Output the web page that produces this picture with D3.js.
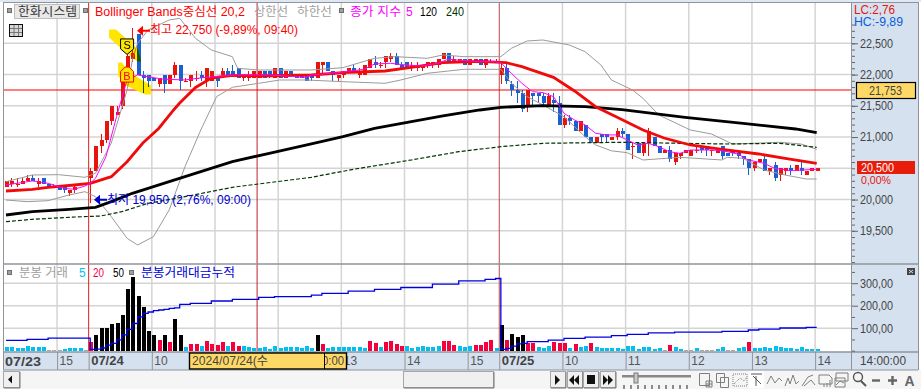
<!DOCTYPE html>
<html lang="ko">
<head>
<meta charset="utf-8">
<title>한화시스템</title>
<script src="https://cdn.jsdelivr.net/npm/d3@7/dist/d3.min.js"></script>
<style>
  html, body { margin: 0; padding: 0; background: #fff; overflow: hidden; }
  svg { display: block; }
  text { font-family: "Liberation Sans", "Noto Sans CJK KR", sans-serif; }
</style>
</head>
<body>
<svg id="chart" width="921" height="389"></svg>
<script>
// 5 minute candles, 07/23 14:xx to 07/25 14:00
const candleOpen = [
  20200,20250,20250,20250,20300,20350,20250,20350,20250,20200,20200,20200,20100,20150,20250,20250,
  20350,20450,20850,20950,21250,21350,21500,22100,22250,22650,22000,22000,21950,21850,22000,21850,22000,22150,21900,21900,21950,22000,21900,21900,21950,22000,22050,22050,22100,21950,21950,21950,21950,22050,22050,21950,22100,21950,22050,22000,22000,22000,
  22000,21950,22150,22200,22050,21950,22000,22050,22100,22000,22000,22100,22200,22150,22200,22250,22300,22150,22200,22100,22100,22100,22150,22150,22150,22250,22350,22200,22200,22250,22150,22200,22250,22150,22200,22200,
  22000,22100,21850,21750,21700,21500,21700,21700,21650,21500,21600,21550,21200,21300,21250,21100,21200,21000,20900,21050,21050,20950,21000,
  21100,21050,20850,20900,20750,20900,21000,20850,20750,20800,20600,20700,20750,20700,20800,20850,20850,20800,20750,20850,20750,20800,20750,20700,20650,20500,20600,20650,20450,20550,20400,20450,20500,20450,20500,20400,20450,20450
];
const candleHigh = [
  20300,20350,20350,20350,20400,20400,20350,20350,20250,20250,20200,20200,20150,20250,20250,20250,
  20500,20850,21050,21250,21500,21500,21950,22500,22750,22650,22050,22000,21950,21950,22000,22000,22200,22150,21950,22000,22050,22050,22100,22050,21950,22100,22100,22150,22100,22000,22050,22050,22050,22050,22050,22100,22100,22050,22050,22000,22000,22000,
  22000,22200,22200,22200,22050,22000,22050,22100,22150,22100,22150,22250,22300,22200,22300,22350,22350,22200,22200,22200,22200,22150,22200,22200,22250,22350,22350,22300,22250,22250,22250,22250,22250,22250,22250,22250,
  22200,22200,21900,21900,21750,21750,21700,21700,21700,21700,21700,21650,21350,21350,21250,21250,21200,21000,21000,21050,21050,21000,21150,
  21150,21050,20900,20900,20900,21150,21000,20850,20800,20850,20750,20750,20800,20800,20850,20850,20850,20800,20800,20850,20750,20800,20800,20700,20650,20600,20650,20700,20500,20600,20500,20500,20550,20550,20600,20450,20500,20500
];
const candleLow = [
  20200,20200,20200,20250,20300,20300,20200,20250,20200,20200,20150,20100,20050,20100,20250,20250,
  19950,20450,20750,20900,21200,21350,21450,21950,22200,22000,21700,21800,21900,21800,21700,21850,21950,21750,21900,21800,21900,21900,21800,21900,21800,21950,22000,22000,21950,21900,21900,21950,21950,21950,21950,21950,21950,21950,22000,21950,21950,21900,
  21900,21950,22000,22050,21900,21900,21950,22050,22050,21950,22000,22100,22100,22100,22100,22200,22150,22100,22100,22050,22050,22050,22100,22100,22100,22250,22200,22200,22200,22150,22150,22200,22150,22100,22200,22200,
  21850,21850,21650,21550,21400,21400,21500,21550,21500,21500,21400,21200,21150,21200,21100,21100,21000,20900,20900,20900,20900,20950,20950,
  21000,20800,20650,20750,20700,20700,20850,20750,20750,20600,20550,20650,20750,20700,20750,20750,20700,20700,20750,20650,20700,20700,20650,20550,20400,20450,20600,20450,20400,20300,20300,20400,20400,20450,20400,20400,20450,20450
];
const candleClose = [
  20300,20300,20250,20300,20350,20300,20300,20250,20200,20200,20150,20150,20150,20200,20250,20250,
  20450,20850,20950,21250,21500,21400,21950,22300,22350,22000,21950,21900,21900,21950,21850,22000,22150,21900,21900,22000,21950,21950,22100,22050,21900,22050,22000,22000,21950,22000,22000,22050,22050,21950,22000,22100,21950,22050,22000,21950,21950,21900,
  21950,22200,22200,22050,22000,22000,22050,22100,22050,22050,22150,22250,22150,22150,22300,22300,22150,22100,22100,22150,22150,22150,22200,22200,22250,22350,22200,22250,22250,22150,22250,22250,22150,22250,22200,22200,
  22100,21900,21750,21700,21450,21750,21650,21650,21550,21650,21550,21200,21300,21250,21100,21250,21000,20900,21000,21000,21000,21000,21100,
  21050,20800,20850,20750,20900,21100,20850,20750,20800,20650,20750,20750,20800,20800,20800,20800,20800,20800,20800,20700,20700,20750,20700,20650,20500,20600,20650,20450,20500,20350,20500,20500,20450,20550,20450,20450,20500,20500
];

// volume per bar, same index as the candles
const volume = [
  15,15,12,12,19,15,15,18,4,4,4,7,12,12,12,4,
  39,70,101,101,120,123,159,274,329,243,194,89,70,47,70,39,141,70,
  16,30,30,19,43,30,25,39,19,39,21,19,15,13,13,16,9,19,12,16,15,16,12,19,
  12,70,30,12,18,15,15,18,18,18,12,44,36,16,39,44,30,21,19,12,16,19,15,15,19,44,44,27,19,16,19,27,27,39,49,12,
  114,47,74,59,70,36,36,15,12,19,39,36,34,12,30,15,19,33,15,12,12,
  12,12,9,19,19,9,16,16,9,12,4,25,16,9,4,4,12,4,4,4,9,16,4,4,12,16,39,12,12,16,12,19,16,12,12,9,16,9,9,9
];

const ma20Index = [0,5,8,13,16,20,23,26,29,32,33,36,39,43,48,58,64,72,77,83,90,95,98,104,108,112,116,121,125,130,136,143,148,154];
const ma20Values = [20137,20164,20196,20233,20260,20366,20606,20905,21137,21449,21545,21793,21945,21988,21977,21993,22030,22057,22116,22190,22212,22190,22126,21956,21737,21486,21321,21113,20985,20873,20804,20729,20660,20580];
const ma120Index = [0,5,12,17,20,24,31,37,43,50,58,64,70,77,83,90,94,102,110,117,129,140,150,154];
const ma120Values = [19753,19806,19844,19876,19966,20100,20286,20446,20606,20740,20889,21006,21140,21246,21337,21433,21476,21502,21486,21438,21316,21220,21129,21070];
const ma240Index = [0,5,12,18,22,27,34,43,58,66,77,86,94,102,117,128,137,147,154];
const ma240Values = [19646,19684,19716,19737,19806,19940,20046,20196,20356,20484,20633,20766,20846,20900,20916,20900,20889,20900,20836];
const upperIndex = [0,3,5,10,15,17,20,23,24,25,27,31,33,36,39,43,44,48,58,64,70,74,80,83,87,94,96,99,102,107,110,113,115,119,121,124,130,134,138,147,151,154];
const upperValues = [20286,20350,20393,20398,20356,20420,20905,21753,22233,22500,22713,22873,22900,22580,22393,22286,22100,22073,22073,22110,22260,22286,22260,22313,22286,22286,22420,22537,22553,22473,22366,22153,21913,21753,21620,21353,21113,21049,20889,20916,20889,20804];
const lowerIndex = [0,4,8,12,15,17,20,23,25,28,31,34,37,40,43,48,52,57,64,72,75,80,87,94,96,99,102,106,110,112,115,118,121,128,136,137,140,144,148,152,154];
const lowerValues = [19993,19966,19982,20073,20126,20046,19726,19380,19273,19406,19833,20526,21113,21646,21796,21860,21913,21913,21886,21860,21913,22020,22084,22084,21860,21646,21513,21326,21006,20873,20780,20750,20633,20676,20633,20676,20660,20473,20393,20329,20329];
const ma5Index = [0,3,5,8,11,13,15,16,17,19,21,23,25,26,30,34,38,41,44,50,57,58,63,66,68,70,73,76,79,82,84,87,90,93,94,96,98,100,102,104,106,108,110,112,114,116,118,120,122,124,126,128,130,134,136,139,141,144,146,149,154];
const ma5Values = [20233,20271,20298,20260,20180,20164,20217,20260,20340,20687,21327,21914,21994,21978,21925,21914,21956,21978,21994,21994,21956,21993,22031,22063,22084,22169,22180,22153,22137,22180,22244,22223,22206,22206,22190,22020,21860,21727,21711,21647,21380,21273,21194,21061,21034,21034,20953,20873,20900,20846,20766,20740,20793,20793,20783,20729,20633,20580,20500,20463,20484];
const turnoverIndex = [0,4,8,15,16,17,18,19,20,21,22,23,24,25,26,27,28,29,30,31,32,33,35,39,43,48,51,58,60,65,70,75,81,86,91,93,94,95,96,97,98,99,103,106,110,115,118,122,127,136,141,143,147,152,154];
const turnoverValues = [46,50,56,56,6,7,12,25,33,48,70,95,121,150,166,172,178,181,184,188,190,206,210,221,228,237,240,247,255,265,273,281,296,310,317,321,6,10,20,30,33,40,47,55,60,67,73,79,83,86,92,96,101,104,104];

const priceTicks = [19500,20000,20500,21000,21500,22000,22500];
const volumeTicks = [100,200,300];
const hourIndex = [10,16,28,40,52,64,76,88,94,106,118,130,142,154];
// 11 and 12 of 07/24 sit under the cursor box, so they get no label
const hourLabels = ['15','07/24','10','','','13','14','15','07/25','10','11','12','13','14'];
const signalIndex = [23,23];
const signalPrice = [22450,22000];

const x = d3.scaleLinear().domain([0,154]).range([6,816.7]);
const yPrice = d3.scaleLinear().domain([19500,22500]).range([230.8,43.3]);
const yVol = d3.scaleLinear().domain([0,300]).range([350.7,283.2]);
// grid lines sit just left of the candle they belong to
const gridX = d => x(d - 0.3);

const svg = d3.select('#chart');
const RED = '#e8140c', BLUE = '#1a60d0', GRID = '#d4d4d4';

function label(parent, px, py, str, color, size, len, opts = {}) {
  const t = parent.append('text')
    .attr('x', px).attr('y', py)
    .attr('dominant-baseline', 'central')
    .attr('fill', color)
    .attr('font-size', size)
    .attr('font-weight', opts.bold ? 'bold' : null)
    .attr('font-family', opts.family || null)
    .text(str);
  if (len) t.attr('textLength', len).attr('lengthAdjust', 'spacingAndGlyphs');
  return t;
}

// panels
svg.append('rect').attr('x', 0).attr('y', 0).attr('width', 921).attr('height', 2).attr('fill', '#dfe8f2');
svg.append('rect').attr('x', 852).attr('y', 3).attr('width', 66).attr('height', 367).attr('fill', '#d5e1ef');
svg.append('rect').attr('x', 4).attr('y', 352).attr('width', 848).attr('height', 18).attr('fill', '#d5e1ef');
svg.append('rect').attr('x', 0).attr('y', 370).attr('width', 921).attr('height', 19).attr('fill', '#f5f5f5');

const defs = svg.append('defs');
defs.append('clipPath').attr('id', 'mainClip').append('rect').attr('x', 4).attr('y', 3).attr('width', 847).attr('height', 260);
defs.append('clipPath').attr('id', 'timeClip').append('rect').attr('x', 325).attr('y', 353).attr('width', 22).attr('height', 16);

// grid
const grid = svg.append('g').attr('stroke', GRID).attr('stroke-width', 1.5);
grid.selectAll('line.v').data(hourIndex.filter(d => d !== 16 && d !== 94))
  .enter().append('line').attr('class', 'v')
  .attr('x1', gridX).attr('x2', gridX).attr('y1', 3).attr('y2', 351);
grid.selectAll('line.h').data(priceTicks)
  .enter().append('line').attr('class', 'h')
  .attr('x1', 4).attr('x2', 851).attr('y1', yPrice).attr('y2', yPrice);
grid.selectAll('line.hv').data(volumeTicks)
  .enter().append('line').attr('class', 'hv')
  .attr('x1', 4).attr('x2', 851).attr('y1', yVol).attr('y2', yVol);

// date change lines, crosshair and the horizontal price cursor
const markers = svg.append('g').attr('fill', 'none');
markers.append('line').attr('x1', gridX(16)).attr('x2', gridX(16)).attr('y1', 3).attr('y2', 351).attr('stroke', '#e02020');
markers.append('line').attr('x1', gridX(48)).attr('x2', gridX(48)).attr('y1', 3).attr('y2', 351).attr('stroke', '#c02030');
markers.append('line').attr('x1', gridX(94)).attr('x2', gridX(94)).attr('y1', 3).attr('y2', 351).attr('stroke', '#b84848');
markers.append('line').attr('x1', 4).attr('x2', 851).attr('y1', yPrice(21753)).attr('y2', yPrice(21753)).attr('stroke', '#ff0000').attr('stroke-width', 1.2);

// candles
const candles = d3.range(candleOpen.length).map(i => ({
  i, o: candleOpen[i], h: candleHigh[i], l: candleLow[i], c: candleClose[i]
}));
const main = svg.append('g').attr('clip-path', 'url(#mainClip)');
const candleColor = d => (d.c >= d.o ? RED : BLUE);

main.selectAll('line.wick').data(candles).enter().append('line')
  .attr('class', 'wick')
  .attr('x1', d => Math.round(x(d.i)) + 0.5).attr('x2', d => Math.round(x(d.i)) + 0.5)
  .attr('y1', d => yPrice(d.h)).attr('y2', d => yPrice(d.l))
  .attr('stroke', candleColor)
  .attr('shape-rendering', 'crispEdges');
main.selectAll('rect.body').data(candles).enter().append('rect')
  .attr('class', 'body')
  .attr('x', d => Math.round(x(d.i)) - 1).attr('width', 4)
  .attr('y', d => yPrice(Math.max(d.o, d.c)))
  .attr('height', d => Math.max(1, Math.abs(yPrice(d.o) - yPrice(d.c))))
  .attr('fill', candleColor)
  .attr('shape-rendering', 'crispEdges');

// indicator lines
const lineFor = (idx, vals, yScale, curve) => d3.line()
  .x(d => x(idx[d]))
  .y(d => yScale(vals[d]))
  .curve(curve || d3.curveLinear)(d3.range(idx.length));

function drawLine(parent, idx, vals, color, width, dash) {
  parent.append('path')
    .attr('d', lineFor(idx, vals, yPrice))
    .attr('fill', 'none')
    .attr('stroke', color)
    .attr('stroke-width', width)
    .attr('stroke-dasharray', dash || null);
}
drawLine(main, upperIndex, upperValues, '#9a9a9a', 1);
drawLine(main, lowerIndex, lowerValues, '#9a9a9a', 1);
drawLine(main, ma240Index, ma240Values, '#003300', 1.2, '4,2');
drawLine(main, ma120Index, ma120Values, '#000', 2.8);
drawLine(main, ma20Index, ma20Values, '#f00a0a', 2.8);
drawLine(main, ma5Index, ma5Values, '#ff00ff', 1);

// S / B signals with the yellow splashes behind them
const splashS = 'M-18,-17 L-11,-17 L11,3 L14,15 L10,15 L-7,1 L-18,-9 Z';
const splashB = 'M-9,-12 L-5,-12 L1,-3 L24,11 L24,20 L18,20 L-3,10 L-9,1 Z';
const sx = x(signalIndex[0]), sy = yPrice(signalPrice[0]);
const bx = x(signalIndex[1]), by = yPrice(signalPrice[1]);
main.append('path').attr('d', splashS).attr('transform', `translate(${sx},${sy})`)
  .attr('fill', '#ffe600').style('mix-blend-mode', 'multiply');
main.append('path').attr('d', splashB).attr('transform', `translate(${bx},${by})`)
  .attr('fill', '#ffe600').style('mix-blend-mode', 'multiply');
const sMark = main.append('g').attr('transform', `translate(${sx},${sy})`);
sMark.append('path').attr('d', 'M-6.5,-7.5 L6.5,-7.5 L6.5,2.5 L0,8 L-6.5,2.5 Z')
  .attr('fill', '#ffe600').attr('stroke', '#000').attr('stroke-width', 1);
label(sMark, -3.5, -1.5, 'S', '#000', 11);
const bMark = main.append('g').attr('transform', `translate(${bx},${by})`);
bMark.append('path').attr('d', 'M-2,-7.5 L2,-7.5 L6.5,-3 L6.5,7.5 L-6.5,7.5 L-6.5,-3 Z')
  .attr('fill', '#ffe600').attr('stroke', '#f00').attr('stroke-width', 1);
label(bMark, -3.8, 1, 'B', '#f00', 11);

// high and low annotations
const hiY = yPrice(22750) + 3, loY = yPrice(19950) - 3;
main.append('path').attr('d', `M137,${hiY} L143,${hiY - 5} L143,${hiY - 1} L150,${hiY - 1} L150,${hiY + 1} L143,${hiY + 1} L143,${hiY + 5} Z`).attr('fill', '#f00');
label(svg, 150, hiY - 0.5, '최고 22,750 (-9,89%, 09:40)', '#f00', 12, 148);
main.append('path').attr('d', `M94,${loY} L100,${loY - 5} L100,${loY - 1} L107,${loY - 1} L107,${loY + 1} L100,${loY + 1} L100,${loY + 5} Z`).attr('fill', '#00c');
label(svg, 107, loY, '최저 19,950 (2,76%, 09:00)', '#00c', 12, 144);

// volume panel
const volColor = v => (v >= 50 ? '#000' : v >= 20 ? '#f5003c' : v >= 5 ? '#00bff3' : '#a8a8a8');
svg.append('g').selectAll('rect').data(volume).enter().append('rect')
  .attr('x', (d, i) => Math.round(x(i)) - 1).attr('width', 4)
  .attr('y', d => yVol(d))
  .attr('height', d => yVol(0) - yVol(d))
  .attr('fill', volColor)
  .attr('shape-rendering', 'crispEdges');
svg.append('path')
  .attr('d', lineFor(turnoverIndex, turnoverValues, yVol, d3.curveStepAfter))
  .attr('fill', 'none').attr('stroke', '#0000e6').attr('stroke-width', 1.3);

// frame
const frame = svg.append('g').attr('stroke', '#8f949b').attr('fill', 'none');
frame.append('line').attr('x1', 3.5).attr('x2', 3.5).attr('y1', 2).attr('y2', 370);
frame.append('line').attr('x1', 3).attr('x2', 918).attr('y1', 2.5).attr('y2', 2.5);
frame.append('line').attr('x1', 851.5).attr('x2', 851.5).attr('y1', 2).attr('y2', 370);
frame.append('line').attr('x1', 918.5).attr('x2', 918.5).attr('y1', 2).attr('y2', 370);
frame.append('line').attr('x1', 3).attr('x2', 918).attr('y1', 264).attr('y2', 264).attr('stroke-width', 1.6);
frame.append('line').attr('x1', 3).attr('x2', 918).attr('y1', 352).attr('y2', 352).attr('stroke-width', 1.4);
frame.append('line').attr('x1', 3).attr('x2', 918).attr('y1', 370).attr('y2', 370);

// price axis, minor ticks first then the labelled ones; 20,500 is shown by the red box instead
const minorPrice = d3.range(19000, 22900, 100);
const minorAxis = svg.append('g').attr('transform', 'translate(852,0)')
  .call(d3.axisRight(yPrice).tickValues(minorPrice).tickSize(3).tickFormat(''));
const priceAxis = svg.append('g').attr('transform', 'translate(852,0)')
  .call(d3.axisRight(yPrice).tickValues(priceTicks.filter(d => d !== 20500)).tickSize(6).tickPadding(2).tickFormat(d3.format(',')));
const minorVolAxis = svg.append('g').attr('transform', 'translate(852,0)')
  .call(d3.axisRight(yVol).tickValues([0,50,150,250,350]).tickSize(3).tickFormat(''));
const volAxis = svg.append('g').attr('transform', 'translate(852,0)')
  .call(d3.axisRight(yVol).tickValues(volumeTicks).tickSize(6).tickPadding(2).tickFormat(d => d + ',00'));
[minorAxis, priceAxis, minorVolAxis, volAxis].forEach(a => {
  a.select('.domain').remove();
  a.selectAll('line').attr('stroke', '#666');
  a.selectAll('text').attr('fill', '#444').attr('font-size', 12)
    .attr('font-family', '"Liberation Sans", sans-serif')
    .attr('textLength', 33).attr('lengthAdjust', 'spacingAndGlyphs');
});

// time axis
const timeAxis = svg.append('g').attr('transform', 'translate(0,352)')
  .call(d3.axisBottom(d3.scaleLinear().domain(x.domain()).range(x.range()))
    .tickValues(hourIndex.map(d => d - 0.3))
    .tickSize(18).tickPadding(0)
    .tickFormat((d, i) => hourLabels[i]));
timeAxis.select('.domain').remove();
timeAxis.selectAll('line').attr('stroke', '#8f949b');
timeAxis.selectAll('text')
  .attr('text-anchor', 'start').attr('x', 2).attr('y', 3).attr('dy', '0.8em')
  .attr('fill', '#555')
  .attr('font-size', 12).attr('font-family', '"Liberation Sans", sans-serif')
  .each(function() {
    const t = d3.select(this);
    if (t.text().includes('/')) t.attr('font-weight', 'bold').attr('font-size', 13).attr('fill', '#444');
  });
label(svg, 5, 361, '07/23', '#444', 13, 36, { bold: true });
label(svg, 860, 361, '14:00:00', '#444', 12, 46);

// cursor time box
svg.append('rect').attr('x', 189.5).attr('y', 353).attr('width', 157).attr('height', 16)
  .attr('fill', '#ffd966').attr('stroke', '#000').attr('stroke-width', 1.4);
svg.append('line').attr('x1', 324.5).attr('x2', 324.5).attr('y1', 353).attr('y2', 369).attr('stroke', '#000');
label(svg, 192, 361, '2024/07/24(수', '#444', 12, 76);
label(svg, 322, 361, '0:00', '#444', 12, 22).attr('clip-path', 'url(#timeClip)');

// right side values
label(svg, 854, 10, 'LC:2,76', '#e8140c', 12, 41);
label(svg, 854, 22, 'HC:-9,89', '#0a5cd8', 12, 49);
svg.append('rect').attr('x', 856.5).attr('y', 82.5).attr('width', 59).attr('height', 16)
  .attr('fill', '#ffd966').attr('stroke', '#000').attr('stroke-width', 1.2);
label(svg, 869, 90.5, '21,753', '#444', 12, 33);
svg.append('rect').attr('x', 857).attr('y', 161).attr('width', 58).attr('height', 13).attr('fill', '#e81c0a');
label(svg, 861, 167.5, '20,500', '#fff', 12, 33);
label(svg, 861, 180, '0,00%', '#e8140c', 11.5, 30);
svg.append('rect').attr('x', 907).attr('y', 268).attr('width', 8).attr('height', 7).attr('fill', '#444');
svg.append('path').attr('d', 'M909,270 L913,273 M913,270 L909,273').attr('stroke', '#ddd');

// header legend
function square(px, py) {
  svg.append('rect').attr('x', px + 0.5).attr('y', py + 0.5).attr('width', 4).attr('height', 4)
    .attr('fill', '#a0a0a0').attr('stroke', '#6e6e6e');
}
square(7, 8);
svg.append('rect').attr('x', 14.5).attr('y', 4.5).attr('width', 65).attr('height', 14)
  .attr('fill', '#e8e8e8').attr('stroke', '#bdbdbd');
label(svg, 18, 11.5, '한화시스템', '#333', 12, 59);
square(83, 8);
label(svg, 95, 11.5, 'Bollinger Bands중심선 20,2', '#f00', 12, 150);
label(svg, 254, 11.5, '상한선', '#a0a0a0', 12, 34);
label(svg, 297, 11.5, '하한선', '#a0a0a0', 12, 35);
square(339, 8);
label(svg, 350, 11.5, '종가 지수', '#f0f', 12, 51);
label(svg, 406, 11.5, '5', '#f0f', 12);
label(svg, 420, 11.5, '120', '#000', 12, 17);
label(svg, 446, 11.5, '240', '#003300', 12, 18);

// table button
svg.append('rect').attr('x', 9.5).attr('y', 24.5).attr('width', 13).attr('height', 12)
  .attr('fill', '#d8d8d8').attr('stroke', '#111');
svg.append('path').attr('d', 'M14,25 V36 M18.5,25 V36 M10,28.5 H22 M10,32.5 H22').attr('stroke', '#777').attr('fill', 'none');

// volume legend
square(7, 270);
label(svg, 19, 273, '분봉 거래', '#a0a0a0', 12, 49);
label(svg, 79, 273, '5', '#00bff3', 12);
label(svg, 93, 273, '20', '#f5003c', 12, 11);
label(svg, 113, 273, '50', '#000', 12, 11);
square(129, 270);
label(svg, 141, 273, '분봉거래대금누적', '#0000d8', 12, 94);

// bottom toolbar
function button(px, w) {
  const g = svg.append('g');
  g.append('rect').attr('x', px + 0.5).attr('y', 371.5).attr('width', w).attr('height', 16)
    .attr('fill', '#f0f0f0').attr('stroke', '#a6a6a6');
  g.append('path').attr('d', `M${px + 1},388 H${px + w + 1} V372`).attr('stroke', '#777').attr('fill', 'none');
  return g;
}
button(3, 16).append('path').attr('d', 'M8,379.5 L12,375.5 V383.5 Z').attr('fill', '#111');
button(403, 90);
button(550, 15).append('path').attr('d', 'M555,375 L560,380 L555,385 Z').attr('fill', '#111');
button(567, 15).append('path').attr('d', 'M569,380 L574,375 V385 Z M574,380 L579,375 V385 Z').attr('fill', '#111');
button(583, 15).append('rect').attr('x', 587).attr('y', 375).attr('width', 8).attr('height', 9).attr('fill', '#111');
button(600, 15).append('path').attr('d', 'M603,375 L608,380 L603,385 Z M608,375 L613,380 L608,385 Z').attr('fill', '#111');

svg.append('rect').attr('x', 622).attr('y', 375).attr('width', 69).attr('height', 2.5).attr('fill', '#888');
svg.append('rect').attr('x', 634).attr('y', 373).attr('width', 4).attr('height', 10).attr('fill', '#c8c8c8').attr('stroke', '#777');
svg.append('g').selectAll('line').data(d3.range(10)).enter().append('line')
  .attr('x1', d => 624 + d * 7).attr('x2', d => 624 + d * 7).attr('y1', 385).attr('y2', 389).attr('stroke', '#222');

const icons = svg.append('g').attr('fill', 'none').attr('stroke', '#7f7f7f');
icons.append('path').attr('d', 'M699.5,373.5 H709.5 V385.5 H699.5 Z M706,381 H712 V387 H706 Z M709,381 V387 M706,384 H712');
icons.append('path').attr('d', 'M716.5,373.5 H724.5 V382.5 H716.5 Z M720.5,377.5 H728.5 V387.5 H720.5 Z');
icons.append('path').attr('d', 'M733,374 H747 V386 H733 Z M734,384 L740,378 L744,381 L747,377').attr('stroke-dasharray', '1,1');
svg.append('rect').attr('x', 749).attr('y', 371).attr('width', 15).attr('height', 17).attr('fill', '#fff');
icons.raise();
icons.append('path').attr('d', 'M751,374 H762 M756,376 V386 M753,376 L761,384').attr('stroke', '#555');
icons.append('path').attr('d', 'M767,384 L771,376 L775,383 L779,378 L782,381');
icons.append('path').attr('d', 'M785,386 L788,378 L790,384 L793,375 L796,384 L799,381');
icons.append('path').attr('d', 'M802,386 L808,377 L813,375 M804,386 L811,380 L815,385');
icons.append('path').attr('d', 'M819,375 H829 L832,378 V384 H819 Z M830,380 V387 M827,383 V387 M824,384 V387');
icons.append('path').attr('d', 'M836,373 H848 V381 H836 Z M835,378 H845 V387 H835 Z M836,385 L840,381 L844,383');
icons.append('circle').attr('cx', 858).attr('cy', 377).attr('r', 4.5).attr('stroke', '#555').attr('stroke-width', 1.4);
icons.append('path').attr('d', 'M861,381 L866,386').attr('stroke', '#555').attr('stroke-width', 2);
icons.append('path').attr('d', 'M872,380.5 H880').attr('stroke', '#666').attr('stroke-width', 2.4);
icons.append('path').attr('d', 'M888,380.5 H897 M892.5,376 V385').attr('stroke', '#666').attr('stroke-width', 2.4);
label(svg, 904.5, 380.5, 'A', '#666', 14, null, { bold: true });
</script>
</body>
</html>
